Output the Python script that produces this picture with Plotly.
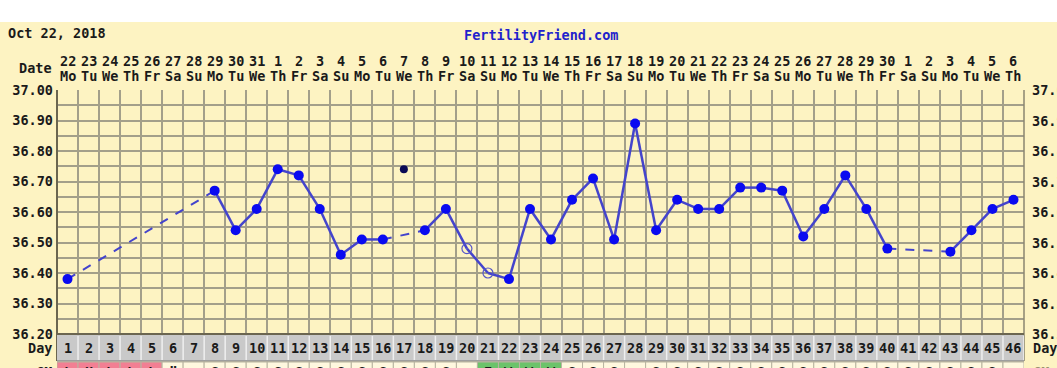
import plotly.graph_objects as go

# ---------------- data ----------------
chart_start = "Oct 22, 2018"
site_name = "FertilityFriend.com"

cycle_days = list(range(1, 47))
date_nums = ["22", "23", "24", "25", "26", "27", "28", "29", "30", "31",
             "1", "2", "3", "4", "5", "6", "7", "8", "9", "10",
             "11", "12", "13", "14", "15", "16", "17", "18", "19", "20",
             "21", "22", "23", "24", "25", "26", "27", "28", "29", "30",
             "1", "2", "3", "4", "5", "6"]
weekdays = ["Mo", "Tu", "We", "Th", "Fr", "Sa", "Su"] * 6 + ["Mo", "Tu", "We", "Th"]

temps = [36.38, None, None, None, None, None, None,
         36.67, 36.54, 36.61, 36.74, 36.72, 36.61, 36.46, 36.51, 36.51,
         None,
         36.54, 36.61, 36.48, 36.40, 36.38, 36.61, 36.51, 36.64, 36.71,
         36.51, 36.89, 36.54, 36.64, 36.61, 36.61, 36.68, 36.68, 36.67,
         36.52, 36.61, 36.72, 36.61, 36.48,
         None, None,
         36.47, 36.54, 36.61, 36.64]
open_marker_days = [20, 21]
discarded_days = [17]
discarded_temps = [36.74]

y_ticks = [37.00, 36.90, 36.80, 36.70, 36.60, 36.50, 36.40, 36.30, 36.20]

cm_codes = ["L", "H", "L", "L", "L", "\u201d", "", "S", "S", "S",
            "S", "S", "S", "S", "S", "S", "S", "S", "S", "",
            "E", "W", "W", "W", "S", "S", "S", "", "S", "S",
            "S", "S", "S", "S", "S", "S", "S", "S", "S", "S",
            "S", "S", "S", "S", "S", ""]
cm_kind = ["p"] * 5 + ["n"] * 15 + ["g"] * 4 + ["n"] * 22

# ---------------- styling ----------------
BG = "#FDF3C2"
GRID = "#A39F8A"
LINE = "#4444CC"
DOT = "#0A0AF0"
FONT = "DejaVu Sans Mono"
TXT = "#1a1a1a"

W, H = 1057, 368
L, R, T, B = 57, 1024, 90, 334
ph = B - T


def py(p):
    return (B - p) / ph


def px(p):
    return (p - L) / (R - L)


fig = go.Figure()

# line segments: solid for consecutive days, dashed across gaps
valid = [(d, t) for d, t in zip(cycle_days, temps) if t is not None]
sx, sy, dx, dy = [], [], [], []
for (d0, t0), (d1, t1) in zip(valid[:-1], valid[1:]):
    if d1 - d0 == 1:
        sx += [d0, d1, None]
        sy += [t0, t1, None]
    else:
        dx += [d0, d1, None]
        dy += [t0, t1, None]

fig.add_trace(go.Scatter(x=dx, y=dy, mode="lines",
                         line=dict(color=LINE, width=2, dash="dash"),
                         hoverinfo="skip", showlegend=False))
fig.add_trace(go.Scatter(x=sx, y=sy, mode="lines",
                         line=dict(color=LINE, width=2.5),
                         hoverinfo="skip", showlegend=False))

fx = [d for d, t in valid if d not in open_marker_days]
fy = [t for d, t in valid if d not in open_marker_days]
fig.add_trace(go.Scatter(x=fx, y=fy, mode="markers",
                         marker=dict(color=DOT, size=10, line=dict(width=0)),
                         showlegend=False))
ox = [d for d, t in valid if d in open_marker_days]
oy = [t for d, t in valid if d in open_marker_days]
fig.add_trace(go.Scatter(x=ox, y=oy, mode="markers",
                         marker=dict(symbol="circle-open", color="#5555C8", size=10,
                                     line=dict(width=1.2)),
                         showlegend=False))
fig.add_trace(go.Scatter(x=discarded_days, y=discarded_temps, mode="markers",
                         marker=dict(color="#0A0A55", size=8),
                         showlegend=False))

shapes = []
annotations = []

# top white strip
shapes.append(dict(type="rect", xref="paper", yref="paper", x0=-0.1, x1=1.1,
                   y0=py(22), y1=py(-5), fillcolor="white", line_width=0, layer="below"))

# plot frame
shapes.append(dict(type="line", xref="paper", yref="paper", x0=0, x1=0,
                   y0=py(361), y1=1, line=dict(color="#6b6650", width=2)))
shapes.append(dict(type="line", xref="paper", yref="paper", x0=1, x1=1,
                   y0=py(361), y1=1, line=dict(color="#8a866f", width=1.5)))

# Day row
shapes.append(dict(type="rect", xref="paper", yref="paper", x0=0, x1=1,
                   y0=py(361), y1=0, fillcolor="#C9C9C9", line_width=0))
shapes.append(dict(type="line", xref="paper", yref="paper", x0=0, x1=1,
                   y0=0, y1=0, line=dict(color="#6b6650", width=2)))
shapes.append(dict(type="line", xref="paper", yref="paper", x0=0, x1=1,
                   y0=py(361), y1=py(361), line=dict(color="#8f8f8f", width=1.5)))

bold = dict(family=FONT, size=13.5, color=TXT, weight="bold")


def ann(x, y, text, xref="paper", yref="paper", xanchor="center", font=bold):
    annotations.append(dict(x=x, y=y, xref=xref, yref=yref, text=text,
                            xanchor=xanchor, yanchor="middle", showarrow=False,
                            font=font))


# CM row cells (mostly below the visible frame, as in the reference)
for d, k, c in zip(cycle_days, cm_kind, cm_codes):
    col = {"p": "#F27F93", "g": "#6CC36A", "n": "#FFF8DF"}[k]
    shapes.append(dict(type="rect", xref="x", yref="paper", x0=d - 0.5, x1=d + 0.5,
                       y0=py(395), y1=py(362), fillcolor=col,
                       line=dict(color="#B8B4A0", width=1)))
    if c:
        ann(d, py(371.5), c, xref="x")

for d in range(1, 47):
    shapes.append(dict(type="line", xref="x", yref="paper", x0=d + 0.5, x1=d + 0.5,
                       y0=py(360), y1=py(336), line=dict(color="#EFEFEF", width=1.5)))

for d, dn, wd in zip(cycle_days, date_nums, weekdays):
    ann(d, py(348), str(d), xref="x")
    ann(d, py(61), dn, xref="x")
    ann(d, py(76), wd, xref="x")

ann(px(54), py(68), "Date", xanchor="right")
ann(px(54), py(348), "Day", xanchor="right")
ann(px(1031), py(348), "Day", xanchor="left")
ann(px(54), py(372), "CM", xanchor="right")
ann(px(1031), py(372), "CM", xanchor="left",
    font=dict(family=FONT, size=13.5, color="#9a9070", weight="bold"))
ann(px(6), py(33), chart_start, xanchor="left")
ann(px(541), py(35), site_name,
    font=dict(family=FONT, size=13.5, color="#2222CC", weight="bold"))
for v in y_ticks:
    ann(px(1030), v, f"{v:.2f}", yref="y", xanchor="left")

fig.update_layout(
    width=W, height=H,
    margin=dict(l=L, r=W - R, t=T, b=H - B, pad=0),
    paper_bgcolor=BG, plot_bgcolor=BG,
    xaxis=dict(range=[0.5, 46.5], tickvals=[d + 0.5 for d in range(0, 47)],
               showticklabels=False, showgrid=True, gridcolor=GRID, gridwidth=1.5,
               zeroline=False, showline=False, fixedrange=True),
    yaxis=dict(range=[36.2, 37.0], tickvals=y_ticks, ticktext=[f"{v:.2f}" for v in y_ticks],
               showgrid=True, gridcolor=GRID, gridwidth=1.5, zeroline=False,
               showline=False, ticks="", ticklabelstandoff=3,
               tickfont=bold,
               minor=dict(dtick=0.05, tick0=36.2, showgrid=True, gridcolor=GRID,
                          gridwidth=1.5)),
    shapes=shapes, annotations=annotations, showlegend=False,
)

fig.write_html("out.html")
